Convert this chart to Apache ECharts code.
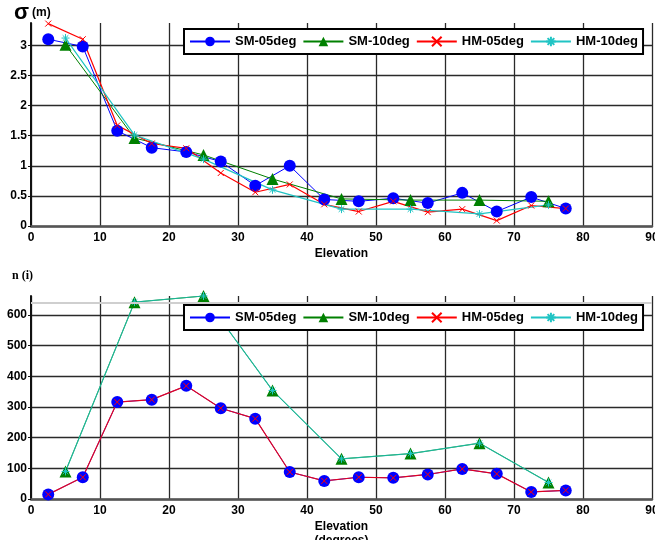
<!DOCTYPE html>
<html>
<head>
<meta charset="utf-8">
<script src="https://cdn.jsdelivr.net/npm/echarts@6/dist/echarts.min.js"></script>
<style>
  html, body { margin: 0; padding: 0; background: #fff; }
  #chart { width: 655px; height: 540px; }
</style>
</head>
<body>
<div id="chart"></div>
<script>
// elevation bins (deg)
const elev05 = [2.5, 7.5, 12.5, 17.5, 22.5, 27.5, 32.5, 37.5, 42.5, 47.5, 52.5, 57.5, 62.5, 67.5, 72.5, 77.5]
const elev10 = [5, 15, 25, 35, 45, 55, 65, 75]

// sigma (m)
const sigmaSM05 = [3.10, 2.98, 1.58, 1.30, 1.23, 1.07, 0.67, 1.00, 0.44, 0.41, 0.46, 0.38, 0.55, 0.24, 0.48, 0.29]
const sigmaSM10 = [3.01, 1.46, 1.18, 0.78, 0.45, 0.43, 0.43, 0.41]
const sigmaHM05 = [3.36, 3.10, 1.67, 1.37, 1.29, 0.88, 0.56, 0.69, 0.36, 0.24, 0.41, 0.23, 0.28, 0.09, 0.34, 0.29]
const sigmaHM10 = [3.12, 1.51, 1.11, 0.60, 0.28, 0.28, 0.20, 0.35]

// sample counts n(i)
const countSM05 = [15, 71, 316, 324, 369, 296, 262, 88, 59, 71, 69, 80, 98, 82, 23, 28]
const countSM10 = [90, 642, 662, 354, 131, 148, 182, 54]
const countHM05 = countSM05
const countHM10 = countSM10

const names = ['SM-05deg', 'SM-10deg', 'HM-05deg', 'HM-10deg']
const xTicks = { min: 0, max: 90, interval: 10 }

const symX = 'path://M0,0L10,10M10,0L0,10'
const symStar = 'path://M5,0L5,10M0,5L10,5M1.5,1.5L8.5,8.5M8.5,1.5L1.5,8.5'

const pairs = (xs, ys) => xs.map((x, i) => [x, ys[i]])

const font = 'Liberation Sans'
const labelStyle = { color: '#000', fontWeight: 'bold', fontSize: 12, fontFamily: font }
const gridLine = { show: true, lineStyle: { color: '#2a2a2a', width: 1.3 } }

const makeX = (idx, withUnit) => ({
  type: 'value', gridIndex: idx, ...xTicks,
  name: withUnit ? 'Elevation\n(degrees)' : 'Elevation',
  nameLocation: 'middle', nameGap: 21,
  nameTextStyle: { ...labelStyle, lineHeight: 14 },
  axisLine: { onZero: false, lineStyle: { color: '#555', width: 2.5 } },
  axisTick: { show: false },
  axisLabel: { ...labelStyle, margin: 6 },
  splitLine: gridLine
})

const makeY = (idx, max, interval) => ({
  type: 'value', gridIndex: idx, min: 0, max, interval,
  axisLine: { show: true, lineStyle: { color: '#111', width: 2 } },
  axisTick: { show: true, length: 3, lineStyle: { color: '#111' } },
  axisLabel: { ...labelStyle, margin: 4, showMaxLabel: false },
  splitLine: { ...gridLine, showMaxLine: false }
})

const makeSeries = (idx, data) => {
  const [sm05, sm10, hm05, hm10] = data
  const bottom = idx === 1
  return [
    {
      name: names[0], type: 'line', xAxisIndex: idx, yAxisIndex: idx,
      data: pairs(elev05, sm05), symbol: 'circle', symbolSize: 12,
      itemStyle: { color: '#0000ff' }, lineStyle: { width: 1, color: '#0000ff' }
    },
    {
      name: names[1], type: 'line', xAxisIndex: idx, yAxisIndex: idx,
      data: pairs(elev10, sm10), symbol: 'triangle', symbolSize: 12,
      itemStyle: { color: '#008000' }, lineStyle: { width: 1, color: '#008000' }
    },
    {
      name: names[2], type: 'line', xAxisIndex: idx, yAxisIndex: idx,
      data: pairs(elev05, hm05), symbol: symX, symbolSize: 6,
      itemStyle: { color: '#ff0000', borderColor: '#ff0000', borderWidth: 1 },
      lineStyle: { width: 1.2, color: '#ff0000', opacity: bottom ? 0.87 : 1 }
    },
    {
      name: names[3], type: 'line', xAxisIndex: idx, yAxisIndex: idx,
      data: pairs(elev10, hm10), symbol: symStar, symbolSize: 8,
      itemStyle: { color: '#20c4c4', borderColor: '#20c4c4', borderWidth: 1 },
      lineStyle: { width: 1.2, color: '#20c4c4', opacity: bottom ? 0.75 : 1 },
      markLine: bottom ? {
        silent: true, symbol: 'none', label: { show: false },
        lineStyle: { color: '#cfcfcf', width: 2, type: 'solid' },
        data: [{ yAxis: 640 }]
      } : undefined
    }
  ]
}

const makeLegend = (top) => ({
  data: names, left: 184, top, width: 480, orient: 'horizontal',
  borderColor: '#000', borderWidth: 2, padding: [6, 5],
  itemWidth: 40, itemHeight: 12, itemGap: 6, backgroundColor: '#fff',
  textStyle: { ...labelStyle, fontSize: 13 }
})

const chart = echarts.init(document.getElementById('chart'))
chart.setOption({
  animation: false,
  backgroundColor: '#fff',
  grid: [
    { left: 31, top: 23, width: 621, height: 203, outerBoundsMode: 'none' },
    { left: 31, top: 296, width: 621, height: 203, outerBoundsMode: 'none' }
  ],
  xAxis: [makeX(0, false), makeX(1, true)],
  yAxis: [makeY(0, 3.37, 0.5), makeY(1, 662, 100)],
  legend: [makeLegend(29), makeLegend(305)],
  graphic: [
    { type: 'text', left: 14, top: 2, style: { text: 'σ', font: 'bold 22px "Liberation Sans"', fill: '#000' } },
    { type: 'text', left: 32, top: 7, style: { text: '(m)', font: 'bold 12px "Liberation Sans"', fill: '#000' } },
    { type: 'text', left: 12, top: 270, style: { text: 'n (i)', font: 'bold 12px "Liberation Serif"', fill: '#000' } }
  ],
  series: [
    ...makeSeries(0, [sigmaSM05, sigmaSM10, sigmaHM05, sigmaHM10]),
    ...makeSeries(1, [countSM05, countSM10, countHM05, countHM10])
  ]
})
</script>
</body>
</html>
